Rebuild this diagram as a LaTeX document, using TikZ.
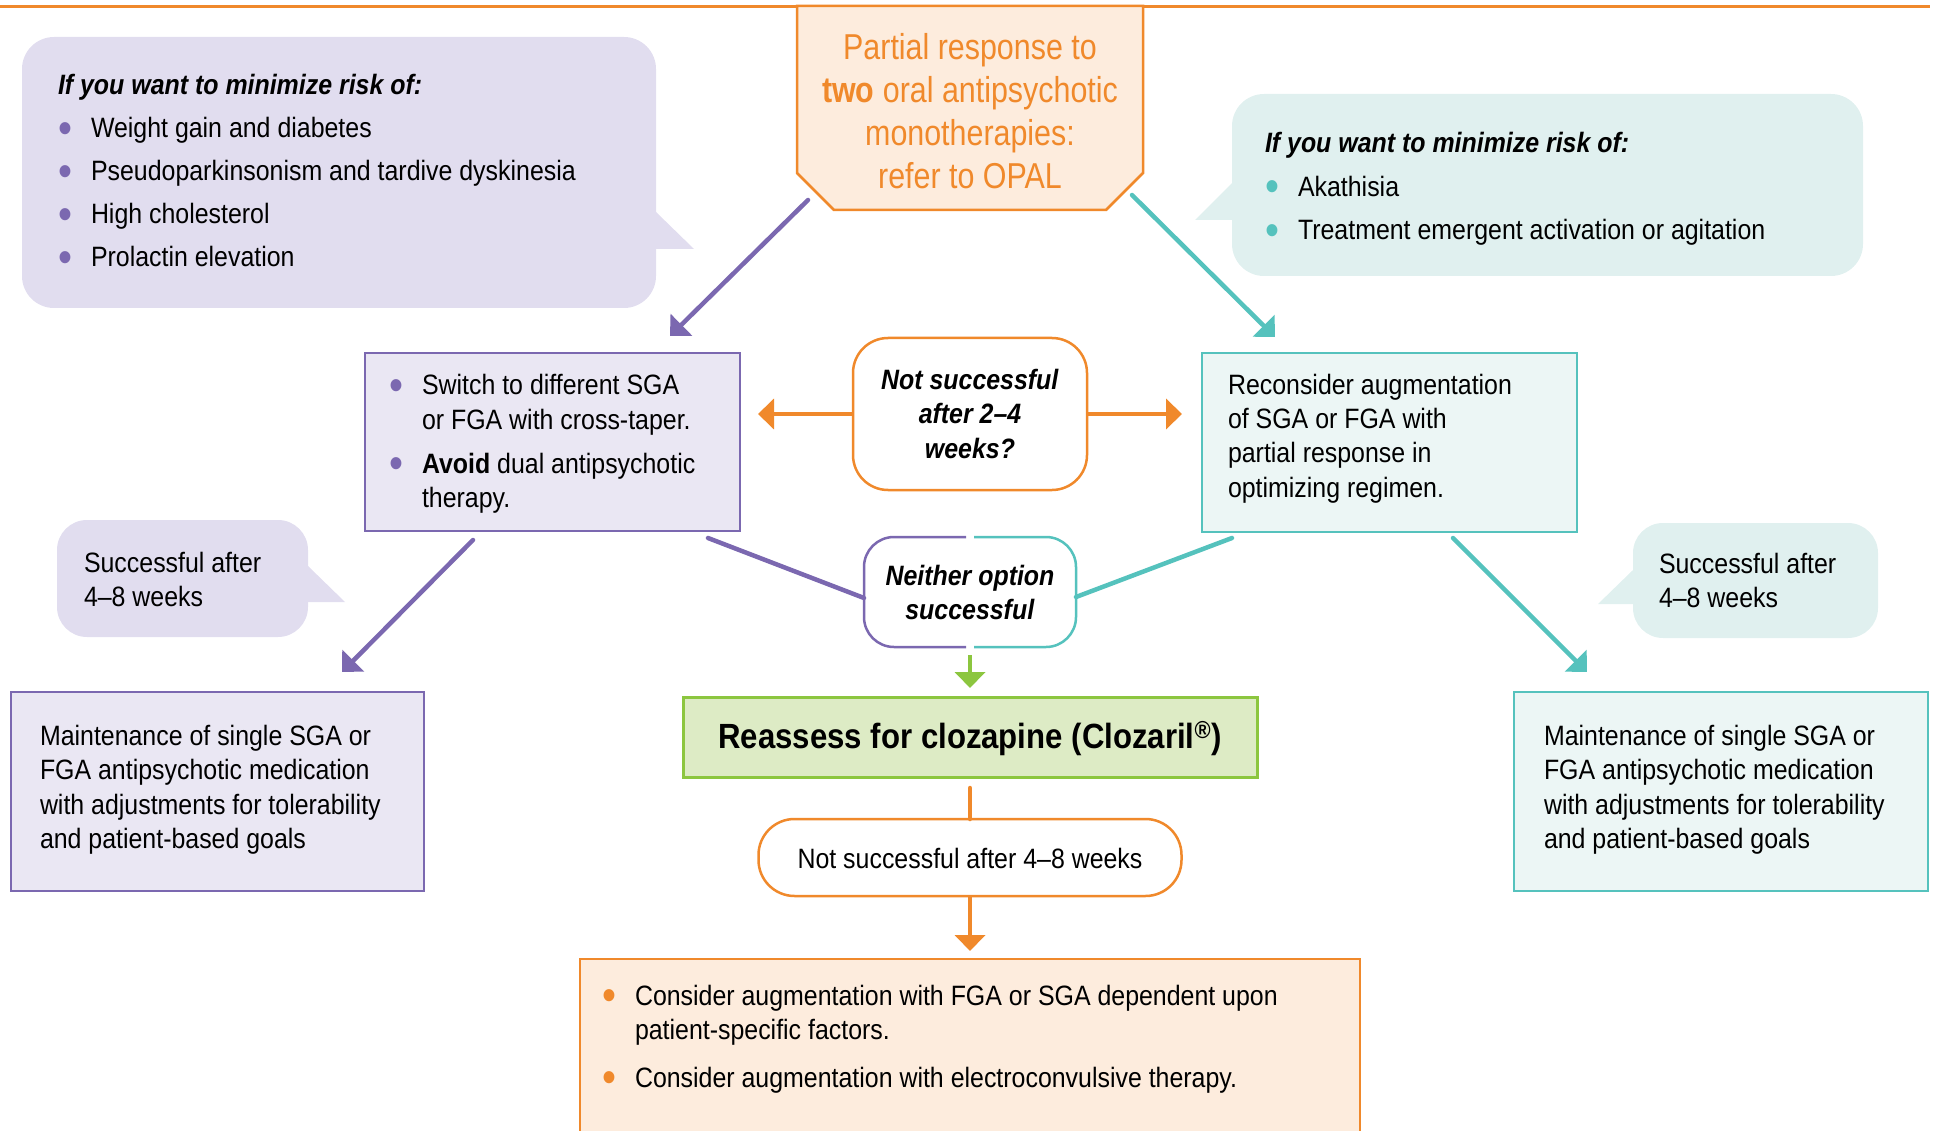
\documentclass[tikz,border=0pt]{standalone}
\usepackage{fontspec}
\setmainfont[FakeStretch=0.89]{Liberation Sans}
\newfontfamily\titlefont[FakeStretch=0.845]{Liberation Sans}
\usetikzlibrary{arrows.meta,calc}

\definecolor{orn}{HTML}{F0892B}
\definecolor{ornfill}{HTML}{FDECDD}
\definecolor{pur}{HTML}{7B68B0}
\definecolor{purcall}{HTML}{E1DDEF}
\definecolor{purbox}{HTML}{EAE7F3}
\definecolor{tl}{HTML}{55C2BD}
\definecolor{tlcall}{HTML}{E0F0EF}
\definecolor{tlbox}{HTML}{ECF6F5}
\definecolor{grn}{HTML}{8CC63F}
\definecolor{grnfill}{HTML}{DDEBC5}

\newcommand\bodyfont{\fontsize{28}{34.5}\selectfont}
\newcommand\pbul[1]{\makebox[33pt][l]{\textcolor{#1}{\raisebox{-5.5pt}{\scalebox{1.6}{\textbullet}}}}}
\newcommand\bi[1]{\textbf{\textit{#1}}}

\begin{document}
\begin{tikzpicture}[x=1pt,y=-1pt,
  every node/.style={inner sep=0pt, outer sep=0pt, font=\bodyfont, text=black},
  box/.style={draw, line width=2.5pt, rectangle},
  callout/.style={rectangle, rounded corners=32pt},
  txt/.style={anchor=base west},
  ctxt/.style={anchor=base},
  conn/.style={line width=4.5pt, line cap=round},
  tri/.style={-{Triangle[width=30pt,length=16pt]}}
]
\useasboundingbox (0,0) rectangle (1935,1131);
\clip (0,0) rectangle (1935,1131);

% top rule
\coordinate (topL) at (0,7);
\coordinate (topR) at (1930,7);
\draw[orn, line width=3pt] (topL) -- (topR);

% ---------- hexagon ----------
\node[minimum width=346pt, minimum height=204pt] (hex) at (970,108) {};
\draw[orn, line width=2.5pt, fill=ornfill, line join=miter]
  (hex.north west) -- (hex.north east) -- ($(hex.south east)+(0,-37)$)
  -- ($(hex.south east)+(-37,0)$) -- ($(hex.south west)+(37,0)$)
  -- ($(hex.south west)+(0,-37)$) -- cycle;
\node[ctxt, text=orn, font=\titlefont\fontsize{36}{43}\selectfont] (hext) at (970,60)
  {\begin{tabular}[t]{@{}c@{}}Partial response to\\\textbf{two} oral antipsychotic\\monotherapies:\\refer to OPAL\end{tabular}};

% ---------- left callout ----------
\node[callout, fill=purcall, minimum width=634pt, minimum height=271pt] (lc) at (339,172.5) {};
\fill[purcall] (646,212) -- (656,212) -- (694,249) -- (646,249) -- cycle;
\node[txt, font=\fontsize{28}{43}\selectfont] (lct) at (58,95)
  {\begin{tabular}[t]{@{}l@{}l@{}}
  \multicolumn{2}{@{}l@{}}{\bi{If you want to minimize risk of:}}\\
  \pbul{pur} & Weight gain and diabetes\\
  \pbul{pur} & Pseudoparkinsonism and tardive dyskinesia\\
  \pbul{pur} & High cholesterol\\
  \pbul{pur} & Prolactin elevation
  \end{tabular}};

% ---------- right callout ----------
\node[callout, fill=tlcall, minimum width=631pt, minimum height=182pt] (rc) at (1547.5,185) {};
\fill[tlcall] (1242,183) -- (1232,183) -- (1195,220) -- (1242,220) -- cycle;
\node[txt, font=\fontsize{28}{43.5}\selectfont] (rct) at (1265,153)
  {\begin{tabular}[t]{@{}l@{}l@{}}
  \multicolumn{2}{@{}l@{}}{\bi{If you want to minimize risk of:}}\\
  \pbul{tl} & Akathisia\\
  \pbul{tl} & Treatment emergent activation or agitation
  \end{tabular}};

% ---------- switch box ----------
\node[box, draw=pur, fill=purbox, minimum width=375pt, minimum height=178pt] (sw) at (552.5,442) {};
\node[txt] (swt) at (389,395)
  {\begin{tabular}[t]{@{}l@{}l@{}}
  \pbul{pur} & Switch to different SGA\\
  & or FGA with cross-taper.\\[9pt]
  \pbul{pur} & \textbf{Avoid} dual antipsychotic\\
  & therapy.
  \end{tabular}};

% ---------- not successful 2-4 ----------
\node[box, draw=orn, fill=white, rounded corners=35pt, minimum width=234pt, minimum height=152pt] (ns) at (970,414) {};
\node[ctxt] (nst) at (970,389)
  {\begin{tabular}[t]{@{}c@{}}\bi{Not successful}\\\bi{after 2--4}\\\bi{weeks?}\end{tabular}};

% ---------- reconsider box ----------
\node[box, draw=tl, fill=tlbox, minimum width=375pt, minimum height=179pt] (rb) at (1389.5,442.5) {};
\node[txt] (rbt) at (1228,394)
  {\begin{tabular}[t]{@{}l@{}}Reconsider augmentation\\of SGA or FGA with\\partial response in\\optimizing regimen.\end{tabular}};

% ---------- success callouts ----------
\node[callout, rounded corners=30pt, fill=purcall, minimum width=251pt, minimum height=117pt] (ls) at (182.5,578.5) {};
\fill[purcall] (298,566) -- (308,566) -- (345,602) -- (298,602) -- cycle;
\node[txt] (lst) at (84,572)
  {\begin{tabular}[t]{@{}l@{}}Successful after\\4--8 weeks\end{tabular}};

\node[callout, rounded corners=30pt, fill=tlcall, minimum width=245pt, minimum height=115pt] (rs) at (1755.5,580.5) {};
\fill[tlcall] (1643,570) -- (1633,570) -- (1598,604) -- (1643,604) -- cycle;
\node[txt] (rst) at (1659,573)
  {\begin{tabular}[t]{@{}l@{}}Successful after\\4--8 weeks\end{tabular}};

% ---------- maintenance boxes ----------
\node[box, draw=pur, fill=purbox, minimum width=413pt, minimum height=199pt] (ml) at (217.5,791.5) {};
\node[txt] (mlt) at (40,745)
  {\begin{tabular}[t]{@{}l@{}}Maintenance of single SGA or\\FGA antipsychotic medication\\with adjustments for tolerability\\and patient-based goals\end{tabular}};

\node[box, draw=tl, fill=tlbox, minimum width=414pt, minimum height=199pt] (mr) at (1721,791.5) {};
\node[txt] (mrt) at (1544,745)
  {\begin{tabular}[t]{@{}l@{}}Maintenance of single SGA or\\FGA antipsychotic medication\\with adjustments for tolerability\\and patient-based goals\end{tabular}};

% ---------- neither option ----------
\node[fill=white, rounded corners=30pt, minimum width=212pt, minimum height=110pt] (nb) at (970,592) {};
\draw[pur, line width=2.5pt, rounded corners=30pt]
  ($(nb.north)+(-4,0)$) -- (nb.north west) -- (nb.south west) -- ($(nb.south)+(-4,0)$);
\draw[tl, line width=2.5pt, rounded corners=30pt]
  ($(nb.north)+(4,0)$) -- (nb.north east) -- (nb.south east) -- ($(nb.south)+(4,0)$);
\node[ctxt] (nbt) at (970,585)
  {\begin{tabular}[t]{@{}c@{}}\bi{Neither option}\\\bi{successful}\end{tabular}};

% ---------- clozapine ----------
\node[box, draw=grn, line width=3pt, fill=grnfill, minimum width=574pt, minimum height=80pt] (gb) at (970,737) {};
\node[ctxt, font=\fontsize{35}{40}\selectfont\bfseries] (gbt) at (970,748)
  {Reassess for clozapine (Clozaril\textsuperscript{®})};

% ---------- not successful 4-8 ----------
\node[box, draw=orn, fill=white, rounded corners=36pt, minimum width=423pt, minimum height=77pt] (pl) at (970,857.5) {};
\node[ctxt] (plt) at (970,868) {Not successful after 4--8 weeks};

% ---------- bottom box ----------
\node[box, draw=orn, fill=ornfill, minimum width=780pt, minimum height=201pt] (bb) at (970,1059.5) {};
\node[txt] (bbt) at (602,1005)
  {\begin{tabular}[t]{@{}l@{}l@{}}
  \pbul{orn} & Consider augmentation with FGA or SGA dependent upon\\
  & patient-specific factors.\\[13pt]
  \pbul{orn} & Consider augmentation with electroconvulsive therapy.
  \end{tabular}};

% ---------- connectors ----------
\draw[conn, pur, tri] ($(hex.south west)+(11,-10)$) -- ($(sw.north east)+(-70,-17)$);
\draw[conn, tl, tri] ($(hex.south east)+(-11,-15)$) -- ($(rb.north west)+(73,-16)$);
\draw[conn, orn, tri, line cap=butt] (ns.west) -- ($(ns.west)+(-95,0)$);
\draw[conn, orn, tri, line cap=butt] (ns.east) -- ($(ns.east)+(95,0)$);
\draw[conn, pur, tri] ($(sw.south west)+(108,9)$) -- ($(ml.north east)+(-82,-20)$);
\draw[conn, tl, tri] ($(rb.south east)+(-124,6)$) -- ($(mr.north west)+(73,-20)$);
\draw[conn, pur] ($(sw.south east)+(-32,7)$) -- ($(nb.west)+(0,6)$);
\draw[conn, tl] ($(rb.south west)+(30,6)$) -- ($(nb.east)+(0,5)$);
\draw[conn, grn, tri, line cap=butt] ($(nb.south)+(0,8)$) -- ($(gb.north)+(0,-9)$);
\draw[conn, orn] ($(gb.south)+(0,11)$) -- (pl.north);
\draw[conn, orn, tri, line cap=butt] (pl.south) -- ($(bb.north)+(0,-8)$);
\end{tikzpicture}
\end{document}
